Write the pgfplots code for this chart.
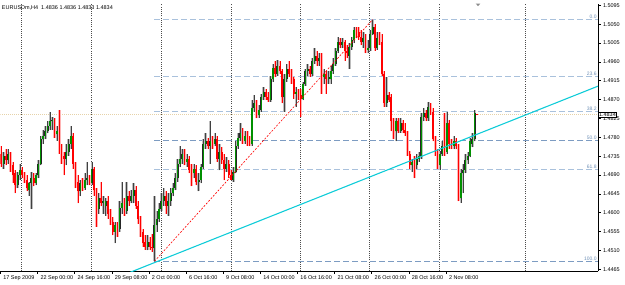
\documentclass[border=0pt]{standalone}
\usepackage{fontspec}
\setmainfont{Liberation Sans}
\usepackage{pgfplots}
\usepackage{pgfplotstable}
\pgfplotsset{compat=1.18}
\definecolor{bullg}{HTML}{009000}
\definecolor{bearr}{HTML}{FF0000}
\definecolor{pinkshade}{HTML}{FFB4B4}
\definecolor{grayshade}{HTML}{BDBDBD}
\definecolor{fibl}{HTML}{A9C1DC}
\definecolor{fibd}{HTML}{7D9CC2}
\definecolor{fibtxt}{HTML}{6F90B6}
\definecolor{trend}{HTML}{10CCD8}
\definecolor{bidline}{HTML}{E6D2A8}
\pgfplotsset{candle/.style={draw=none, mark=none, forget plot, error bars/.cd, y dir=plus, y explicit, error mark=none}}

\pgfplotstableread{
x o h l c
0 1.4741 1.4758 1.4710 1.4717
1 1.4717 1.4746 1.4705 1.4736
2 1.4736 1.4751 1.4713 1.4725
3 1.4725 1.4751 1.4717 1.4741
4 1.4741 1.4746 1.4698 1.4713
5 1.4713 1.4722 1.4670 1.4689
6 1.4694 1.4703 1.4646 1.4665
7 1.4665 1.4698 1.4658 1.4689
8 1.4689 1.4717 1.4679 1.4703
9 1.4703 1.4710 1.4682 1.4689
10 1.4689 1.4698 1.4670 1.4679
11 1.4679 1.4689 1.4651 1.4658
12 1.4653 1.4674 1.4641 1.4670
13 1.4670 1.4698 1.4610 1.4682
14 1.4682 1.4694 1.4663 1.4670
15 1.4670 1.4694 1.4665 1.4689
16 1.4689 1.4725 1.4682 1.4717
17 1.4717 1.4782 1.4713 1.4775
18 1.4775 1.4798 1.4765 1.4784
19 1.4784 1.4808 1.4775 1.4794
20 1.4794 1.4820 1.4789 1.4808
21 1.4808 1.4841 1.4798 1.4818
22 1.4818 1.4829 1.4798 1.4822
23 1.4822 1.4827 1.4779 1.4787
24 1.4787 1.4808 1.4772 1.4794
25 1.4794 1.4844 1.4741 1.4751
26 1.4751 1.4765 1.4717 1.4736
27 1.4736 1.4746 1.4689 1.4727
28 1.4727 1.4765 1.4713 1.4746
29 1.4746 1.4777 1.4736 1.4765
30 1.4765 1.4806 1.4753 1.4784
31 1.4784 1.4789 1.4705 1.4717
32 1.4717 1.4722 1.4658 1.4674
33 1.4674 1.4689 1.4622 1.4651
34 1.4651 1.4679 1.4639 1.4670
35 1.4670 1.4682 1.4651 1.4660
36 1.4660 1.4694 1.4655 1.4677
37 1.4677 1.4722 1.4665 1.4682
38 1.4682 1.4689 1.4665 1.4672
39 1.4672 1.4722 1.4667 1.4705
40 1.4705 1.4710 1.4641 1.4653
41 1.4653 1.4658 1.4567 1.4608
42 1.4608 1.4646 1.4598 1.4636
43 1.4636 1.4674 1.4615 1.4622
44 1.4622 1.4641 1.4598 1.4627
45 1.4615 1.4636 1.4593 1.4629
46 1.4629 1.4639 1.4586 1.4598
47 1.4598 1.4610 1.4570 1.4579
48 1.4579 1.4589 1.4546 1.4555
49 1.4555 1.4579 1.4527 1.4570
50 1.4570 1.4579 1.4543 1.4550
51 1.4560 1.4629 1.4555 1.4612
52 1.4612 1.4674 1.4598 1.4622
53 1.4622 1.4634 1.4593 1.4603
54 1.4603 1.4674 1.4598 1.4639
55 1.4639 1.4651 1.4617 1.4627
56 1.4627 1.4655 1.4622 1.4641
57 1.4641 1.4670 1.4622 1.4653
58 1.4653 1.4663 1.4610 1.4617
59 1.4617 1.4627 1.4574 1.4584
60 1.4584 1.4593 1.4543 1.4555
61 1.4555 1.4562 1.4519 1.4527
62 1.4531 1.4546 1.4512 1.4519
63 1.4519 1.4546 1.4510 1.4531
64 1.4531 1.4543 1.4512 1.4519
65 1.4519 1.4550 1.4507 1.4515
66 1.4515 1.4641 1.4484 1.4570
67 1.4570 1.4603 1.4555 1.4586
68 1.4586 1.4622 1.4579 1.4610
69 1.4610 1.4646 1.4603 1.4629
70 1.4629 1.4658 1.4617 1.4641
71 1.4641 1.4651 1.4598 1.4617
72 1.4617 1.4646 1.4593 1.4627
73 1.4627 1.4658 1.4617 1.4646
74 1.4646 1.4670 1.4639 1.4660
75 1.4660 1.4694 1.4653 1.4684
76 1.4684 1.4729 1.4674 1.4717
77 1.4717 1.4760 1.4708 1.4727
78 1.4727 1.4753 1.4717 1.4741
79 1.4741 1.4751 1.4713 1.4722
80 1.4722 1.4741 1.4710 1.4727
81 1.4727 1.4736 1.4694 1.4703
82 1.4703 1.4717 1.4663 1.4694
83 1.4694 1.4717 1.4682 1.4705
84 1.4705 1.4713 1.4665 1.4674
85 1.4674 1.4694 1.4651 1.4679
86 1.4679 1.4717 1.4670 1.4710
87 1.4710 1.4777 1.4705 1.4765
88 1.4765 1.4789 1.4753 1.4770
89 1.4770 1.4779 1.4751 1.4760
90 1.4760 1.4818 1.4717 1.4772
91 1.4772 1.4782 1.4753 1.4765
92 1.4765 1.4789 1.4758 1.4777
93 1.4777 1.4784 1.4722 1.4729
94 1.4729 1.4765 1.4701 1.4746
95 1.4746 1.4756 1.4717 1.4725
96 1.4725 1.4741 1.4677 1.4705
97 1.4705 1.4734 1.4698 1.4717
98 1.4717 1.4725 1.4682 1.4689
99 1.4689 1.4703 1.4677 1.4679
100 1.4679 1.4708 1.4674 1.4698
101 1.4698 1.4770 1.4694 1.4760
102 1.4760 1.4789 1.4753 1.4779
103 1.4779 1.4813 1.4770 1.4789
104 1.4789 1.4801 1.4765 1.4772
105 1.4772 1.4794 1.4765 1.4784
106 1.4784 1.4794 1.4760 1.4767
107 1.4767 1.4784 1.4758 1.4765
108 1.4765 1.4870 1.4760 1.4851
109 1.4851 1.4880 1.4841 1.4861
110 1.4861 1.4870 1.4825 1.4832
111 1.4832 1.4856 1.4827 1.4846
112 1.4846 1.4884 1.4841 1.4877
113 1.4877 1.4899 1.4870 1.4889
114 1.4889 1.4896 1.4870 1.4877
115 1.4877 1.4889 1.4865 1.4870
116 1.4870 1.4927 1.4865 1.4918
117 1.4918 1.4956 1.4913 1.4946
118 1.4946 1.4961 1.4923 1.4932
119 1.4932 1.4965 1.4927 1.4951
120 1.4951 1.4961 1.4930 1.4937
121 1.4937 1.4944 1.4861 1.4875
122 1.4875 1.4932 1.4841 1.4920
123 1.4920 1.4956 1.4913 1.4942
124 1.4942 1.4961 1.4923 1.4930
125 1.4930 1.4942 1.4908 1.4918
126 1.4918 1.4923 1.4872 1.4884
127 1.4884 1.4899 1.4853 1.4889
128 1.4889 1.4896 1.4870 1.4880
129 1.4880 1.4894 1.4829 1.4872
130 1.4872 1.4913 1.4868 1.4908
131 1.4908 1.4944 1.4903 1.4937
132 1.4937 1.4956 1.4927 1.4942
133 1.4942 1.4949 1.4925 1.4932
134 1.4932 1.4970 1.4927 1.4961
135 1.4961 1.4992 1.4956 1.4975
136 1.4975 1.4985 1.4951 1.4961
137 1.4961 1.4980 1.4951 1.4970
138 1.4970 1.4980 1.4884 1.4927
139 1.4923 1.4942 1.4908 1.4932
140 1.4932 1.4939 1.4884 1.4918
141 1.4918 1.4937 1.4908 1.4923
142 1.4918 1.4951 1.4908 1.4939
143 1.4939 1.4968 1.4932 1.4956
144 1.4956 1.4994 1.4951 1.4987
145 1.4987 1.5020 1.4980 1.5008
146 1.5008 1.5018 1.4992 1.4999
147 1.4999 1.5018 1.4992 1.5008
148 1.5008 1.5013 1.4963 1.4987
149 1.4987 1.4999 1.4968 1.4980
150 1.4975 1.5004 1.4944 1.4996
151 1.4996 1.5020 1.4989 1.5011
152 1.5011 1.5042 1.5004 1.5035
153 1.5035 1.5042 1.5016 1.5027
154 1.5032 1.5042 1.5013 1.5020
155 1.5020 1.5037 1.4999 1.5008
156 1.5008 1.5032 1.4994 1.5016
157 1.5016 1.5027 1.4980 1.4989
158 1.4989 1.5013 1.4980 1.4994
159 1.4992 1.5037 1.4985 1.5027
160 1.5027 1.5061 1.5023 1.5042
161 1.5042 1.5051 1.4987 1.4994
162 1.4994 1.5032 1.4989 1.5018
163 1.5018 1.5032 1.4999 1.5008
164 1.5008 1.5027 1.4927 1.4932
165 1.4932 1.4937 1.4853 1.4861
166 1.4861 1.4925 1.4853 1.4880
167 1.4880 1.4889 1.4863 1.4870
168 1.4875 1.4884 1.4794 1.4818
169 1.4818 1.4827 1.4775 1.4794
170 1.4794 1.4825 1.4770 1.4818
171 1.4818 1.4825 1.4789 1.4796
172 1.4796 1.4825 1.4791 1.4813
173 1.4813 1.4822 1.4789 1.4798
174 1.4798 1.4813 1.4784 1.4789
175 1.4789 1.4794 1.4736 1.4741
176 1.4741 1.4748 1.4705 1.4713
177 1.4713 1.4729 1.4698 1.4722
178 1.4722 1.4736 1.4682 1.4713
179 1.4713 1.4741 1.4705 1.4729
180 1.4729 1.4746 1.4722 1.4736
181 1.4736 1.4837 1.4729 1.4829
182 1.4829 1.4851 1.4818 1.4837
183 1.4837 1.4846 1.4818 1.4825
184 1.4825 1.4863 1.4820 1.4853
185 1.4853 1.4861 1.4832 1.4841
186 1.4841 1.4849 1.4770 1.4777
187 1.4777 1.4784 1.4736 1.4741
188 1.4741 1.4751 1.4705 1.4713
189 1.4713 1.4748 1.4703 1.4741
190 1.4741 1.4770 1.4736 1.4758
191 1.4758 1.4837 1.4736 1.4746
192 1.4746 1.4841 1.4741 1.4813
193 1.4813 1.4822 1.4753 1.4765
194 1.4765 1.4777 1.4751 1.4760
195 1.4760 1.4782 1.4751 1.4770
196 1.4770 1.4779 1.4751 1.4758
197 1.4758 1.4765 1.4627 1.4634
198 1.4634 1.4705 1.4624 1.4694
199 1.4694 1.4717 1.4646 1.4703
200 1.4703 1.4741 1.4694 1.4725
201 1.4725 1.4746 1.4717 1.4736
202 1.4736 1.4779 1.4732 1.4770
203 1.4765 1.4789 1.4756 1.4775
204 1.4775 1.4846 1.4770 1.4837
205 1.4836 1.4836 1.4833 1.4834
}\candles

\begin{document}
\begin{tikzpicture}
\begin{axis}[
  at={(0,0)}, anchor=south west,
  scale only axis, width=598bp, height=268bp,
  xmin=-0.43, xmax=257.1, ymin=1.44598, ymax=1.5099,
  axis x line*=bottom, axis y line*=right,
  axis line style={-, black, line width=0.6bp},
  tick align=outside, major tick length=2.5bp,
  tick style={black, line width=0.5bp},
  clip mode=individual,
  font=\fontsize{5.5}{6}\selectfont,
  /pgf/number format/assume math mode=true,
  ytick={1.4465,1.4510,1.4555,1.4600,1.4645,1.4690,1.4735,1.4780,1.4825,1.4870,1.4915,1.4960,1.5005,1.5050,1.5095},
  yticklabel style={/pgf/number format/fixed, /pgf/number format/fixed zerofill, /pgf/number format/precision=4, anchor=west, xshift=-1bp},
  xtick={-0.43,15.6,31.6,47.6,63.6,79.6,95.6,111.6,127.6,143.6,159.6,175.6,191.6},
  xticklabels={17 Sep 2009,22 Sep 00:00,24 Sep 16:00,29 Sep 08:00,2 Oct 00:00,6 Oct 16:00,9 Oct 08:00,14 Oct 00:00,16 Oct 16:00,21 Oct 08:00,26 Oct 00:00,28 Oct 16:00,2 Nov 08:00},
  xticklabel style={anchor=north west, xshift=-0.5bp, yshift=1.5bp},
  extra x ticks={8.61,38.76,68.9,99.05,128.8,158.5,188.6,225.7},
  extra x tick labels={},
  extra x tick style={grid=major, major grid style={black!70, line width=0.45bp, dash pattern=on 1bp off 1.2bp}, major tick length=0pt},
]
% bid line
\addplot[bidline, line width=0.7bp, dash pattern=on 1bp off 1bp, forget plot] coordinates {(-0.43,1.4834) (257.1,1.4834)};
% fibonacci levels
\addplot[fibl, line width=0.7bp, dash pattern=on 6bp off 3bp] coordinates {(66,1.5061) (257.1,1.5061)};
\addplot[fibl, line width=0.7bp, dash pattern=on 6bp off 3bp] coordinates {(66,1.4925) (257.1,1.4925)};
\addplot[fibl, line width=0.7bp, dash pattern=on 6bp off 3bp] coordinates {(66,1.4841) (257.1,1.4841)};
\addplot[fibd, line width=0.7bp, dash pattern=on 6bp off 3bp] coordinates {(66,1.4773) (257.1,1.4773)};
\addplot[fibl, line width=0.7bp, dash pattern=on 6bp off 3bp] coordinates {(66,1.4704) (257.1,1.4704)};
\addplot[fibd, line width=0.7bp, dash pattern=on 6bp off 3bp] coordinates {(66,1.4484) (257.1,1.4484)};
% shading
\addplot[candle, error bar style={draw=pinkshade, line width=2.4bp}]
  table[x=x, y=l, y error plus expr={(\thisrow{c}<\thisrow{o})*(\thisrow{h}-\thisrow{l})}] {\candles};
\addplot[candle, error bar style={draw=grayshade, line width=2.4bp}]
  table[x=x, y=l, y error plus expr={(\thisrow{c}>=\thisrow{o})*(\thisrow{h}-\thisrow{l})}] {\candles};
% wicks
\addplot[candle, error bar style={draw=bearr, line width=0.6bp}]
  table[x=x, y=l, y error plus expr={(\thisrow{c}<\thisrow{o})*(\thisrow{h}-\thisrow{l})}] {\candles};
\addplot[candle, error bar style={draw=black!75, line width=0.6bp}]
  table[x=x, y=l, y error plus expr={(\thisrow{c}>=\thisrow{o})*(\thisrow{h}-\thisrow{l})}] {\candles};
% bodies
\addplot[candle, error bar style={draw=bearr, line width=1.6bp}]
  table[x=x, y=c, y error plus expr={(\thisrow{c}<\thisrow{o})*(\thisrow{o}-\thisrow{c})}] {\candles};
\addplot[candle, error bar style={draw=black!85, line width=2.0bp}]
  table[x=x, y=o, y error plus expr={(\thisrow{c}>=\thisrow{o})*(\thisrow{c}-\thisrow{o})}] {\candles};
\addplot[candle, error bar style={draw=bullg, line width=1.3bp}]
  table[x=x, y=o, y error plus expr={(\thisrow{c}>=\thisrow{o})*(\thisrow{c}-\thisrow{o})}] {\candles};
% fib base line
\addplot[red, line width=0.6bp, dash pattern=on 2bp off 1.5bp] coordinates {(66,1.4484) (160,1.5061)};
% trend line
\addplot[trend, line width=1.1bp] coordinates {(55.6,1.4458) (257.1,1.4902)};
% labels
\node[anchor=north west, inner sep=0pt, font=\fontsize{5.5}{6}\selectfont] at (rel axis cs:0,1) [xshift=1.5bp, yshift=-1.5bp] {EURUSDm,H4\ \ 1.4836 1.4836 1.4833 1.4834};
\node[anchor=south east, inner sep=0.6bp, text=fibtxt, font=\fontsize{5}{5}\selectfont] at (axis cs:256.8,1.5061) {0.0};
\node[anchor=south east, inner sep=0.6bp, text=fibtxt, font=\fontsize{5}{5}\selectfont] at (axis cs:256.8,1.4925) {23.6};
\node[anchor=south east, inner sep=0.6bp, text=fibtxt, font=\fontsize{5}{5}\selectfont] at (axis cs:256.8,1.4841) {38.2};
\node[anchor=south east, inner sep=0.6bp, text=fibtxt, font=\fontsize{5}{5}\selectfont] at (axis cs:256.8,1.4773) {50.0};
\node[anchor=south east, inner sep=0.6bp, text=fibtxt, font=\fontsize{5}{5}\selectfont] at (axis cs:256.8,1.4704) {61.8};
\node[anchor=south east, inner sep=0.6bp, text=fibtxt, font=\fontsize{5}{5}\selectfont] at (axis cs:256.8,1.4484) {100.0};
\node[anchor=west, draw=black, fill=white, line width=0.5bp, inner sep=0.8bp, font=\fontsize{5.5}{6}\selectfont] at (axis cs:257.1,1.4834) {1.4834};
\fill[black!45] (axis cs:204.4,1.5099) -- (axis cs:206.4,1.5099) -- (axis cs:205.4,1.5093) -- cycle;
\end{axis}
\useasboundingbox (0,-13bp) rectangle (625bp,268bp);
\end{tikzpicture}
\end{document}
